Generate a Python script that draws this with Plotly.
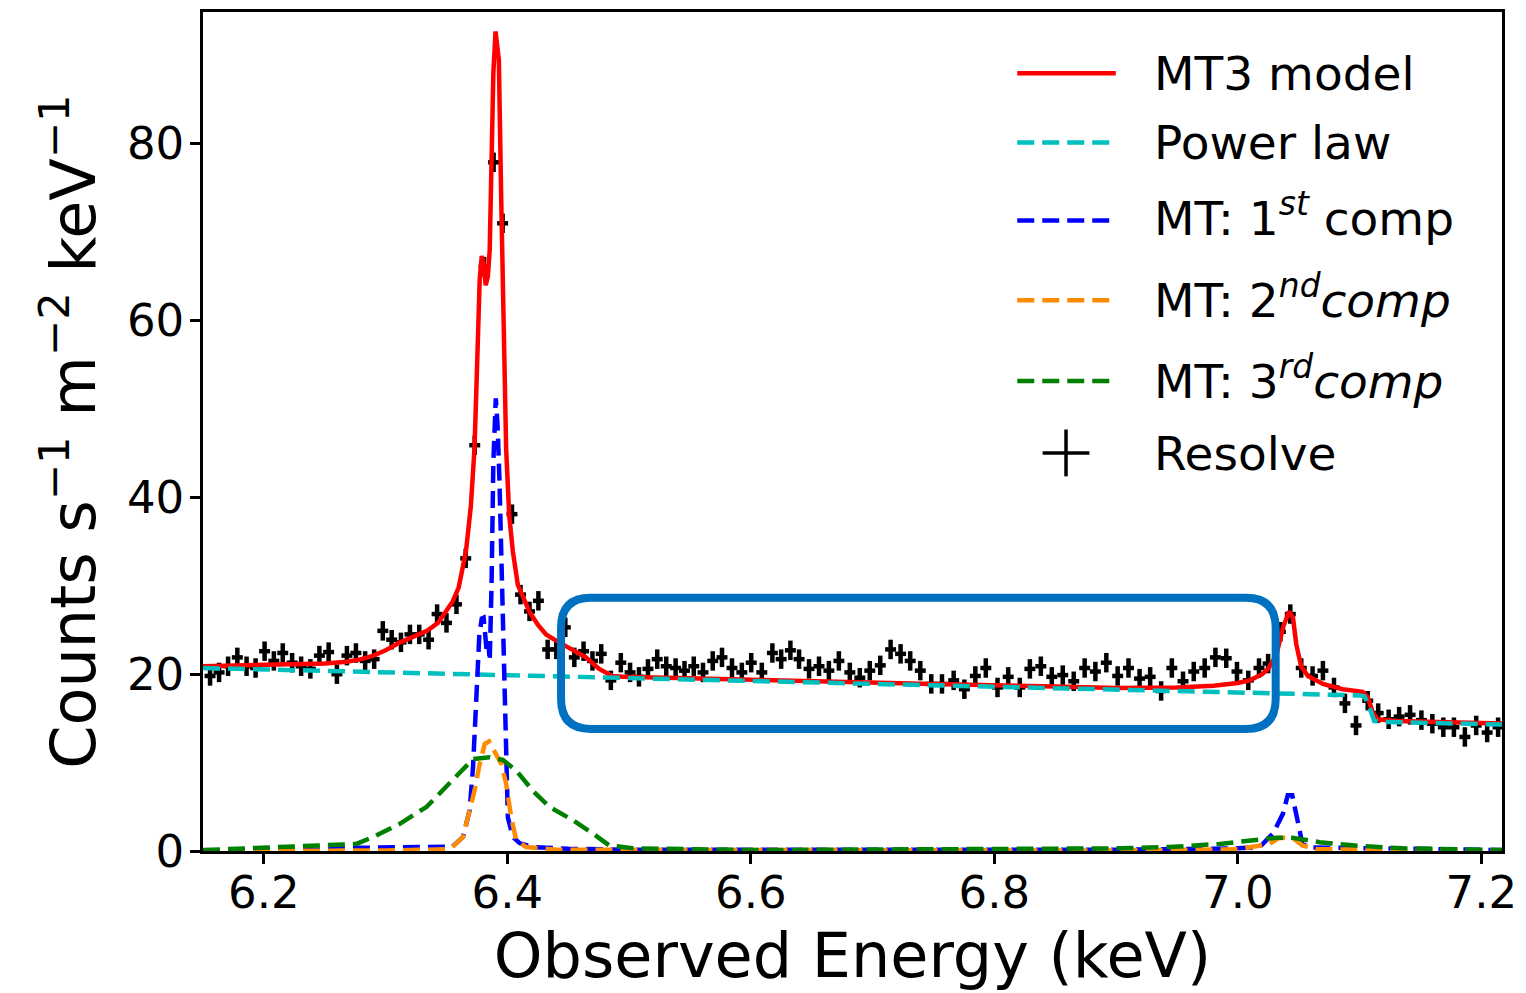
import plotly.graph_objects as go

# ---------------- data ----------------
energy = [6.1558, 6.1632, 6.1706, 6.1782, 6.1858, 6.1932, 6.2006, 6.2082, 6.2155, 6.2232,
          6.2306, 6.2382, 6.2456, 6.2532, 6.2600, 6.2682, 6.2756, 6.2832, 6.2906, 6.2977,
          6.3050, 6.3126, 6.3200, 6.3276, 6.3353, 6.3423, 6.3500, 6.3582, 6.3658, 6.3732,
          6.3809, 6.3887, 6.3961, 6.4038, 6.4108, 6.4182, 6.4255, 6.4331, 6.4402, 6.4476,
          6.4550, 6.4626, 6.4699, 6.4771, 6.4850, 6.4932, 6.5008, 6.5081, 6.5155, 6.5231,
          6.5305, 6.5382, 6.5455, 6.5531, 6.5607, 6.5687, 6.5763, 6.5845, 6.5926, 6.6003,
          6.6090, 6.6177, 6.6249, 6.6325, 6.6396, 6.6478, 6.6560, 6.6641, 6.6723, 6.6813,
          6.6895, 6.6977, 6.7063, 6.7148, 6.7230, 6.7309, 6.7392, 6.7482, 6.7570, 6.7666,
          6.7754, 6.7844, 6.7930, 6.8026, 6.8114, 6.8209, 6.8292, 6.8382, 6.8472, 6.8562,
          6.8652, 6.8742, 6.8830, 6.8920, 6.9013, 6.9102, 6.9193, 6.9280, 6.9370, 6.9458,
          6.9550, 6.9638, 6.9728, 6.9816, 6.9905, 6.9993, 7.0086, 7.0174, 7.0249, 7.0350,
          7.0431, 7.0521, 7.0614, 7.0699, 7.0790, 7.0880, 7.0971, 7.1067, 7.1153, 7.1239,
          7.1325, 7.1415, 7.1508, 7.1598, 7.1688, 7.1775, 7.1865, 7.1958, 7.2048, 7.2138]
counts = [19.8, 20.2, 20.9, 21.9, 20.9, 20.7, 22.6, 21.5, 22.4, 21.3,
          20.9, 20.6, 22.1, 22.5, 20.0, 22.1, 22.4, 21.5, 21.7, 24.9,
          23.9, 23.6, 24.5, 24.5, 23.9, 26.8, 25.8, 27.9, 33.1, 45.9,
          66.1, 77.9, 71.0, 38.1, 29.0, 27.1, 28.3, 22.8, 22.8, 25.3,
          21.9, 22.6, 21.5, 22.3, 19.3, 21.3, 20.2, 19.7, 20.6, 21.7,
          20.9, 20.7, 20.4, 20.9, 20.2, 21.5, 21.9, 20.7, 20.2, 21.3,
          20.2, 22.4, 21.7, 22.7, 21.7, 20.6, 20.9, 20.4, 21.5, 20.2,
          19.6, 20.4, 21.0, 22.8, 22.3, 21.5, 20.4, 18.9, 18.9, 19.3,
          18.3, 19.8, 20.7, 18.5, 19.7, 18.5, 20.6, 20.9, 19.7, 19.9,
          19.2, 20.7, 20.3, 21.3, 19.8, 20.7, 19.5, 19.7, 18.1, 20.7,
          19.2, 20.3, 20.7, 21.9, 21.8, 20.3, 19.3, 20.7, 21.2, 24.8,
          26.8, 20.7, 19.8, 20.4, 18.5, 16.7, 14.2, 17.0, 15.6, 14.9,
          15.2, 15.4, 14.8, 14.4, 14.0, 14.0, 12.9, 14.2, 13.4, 14.0]

model_e = [6.150, 6.200, 6.250, 6.268, 6.280, 6.290, 6.300, 6.312, 6.323, 6.334,
           6.343, 6.350, 6.355, 6.360, 6.366, 6.370, 6.373, 6.3745, 6.376, 6.3773,
           6.3790, 6.3805, 6.3822, 6.3840, 6.3855, 6.3868, 6.3885, 6.3903, 6.3915, 6.3930,
           6.3950, 6.3969, 6.3990, 6.4015, 6.4045, 6.4086, 6.4180, 6.4250, 6.4318, 6.4400,
           6.4482, 6.4645, 6.4754, 6.4863, 6.4950, 6.5500, 6.6500, 6.7500, 6.8500, 6.9000,
           6.9500, 6.9800, 7.0000, 7.0098, 7.0200, 7.0249, 7.0317, 7.0372, 7.0420, 7.0453,
           7.0480, 7.0520, 7.0576, 7.0699, 7.0862, 7.1026, 7.1067, 7.1108, 7.1148, 7.1300,
           7.2200]
model_y = [20.9, 21.0, 21.2, 21.4, 21.7, 22.1, 22.7, 23.6, 24.2, 24.9,
           25.8, 27.1, 28.2, 29.8, 33.9, 39.0, 45.5, 52.0, 62.1, 64.7,
           67.3, 66.5, 64.0, 65.0, 68.0, 77.9, 88.0, 92.7, 91.5, 89.5,
           73.4, 62.1, 45.5, 38.0, 33.9, 30.1, 27.1, 25.6, 24.5, 23.8,
           23.2, 21.9, 20.6, 19.8, 19.7, 19.55, 19.2, 18.9, 18.6, 18.45,
           18.5, 18.7, 19.0, 19.3, 20.0, 20.6, 22.2, 25.3, 27.1, 26.4,
           23.4, 20.9, 19.8, 18.9, 18.3, 18.0, 17.4, 15.7, 14.9, 14.7,
           14.4]

pl_e = [6.150, 6.400, 6.600, 6.800, 7.000, 7.100, 7.104, 7.108, 7.112, 7.120, 7.220]
pl_y = [20.7, 19.9, 19.25, 18.65, 18.0, 17.6, 17.5, 16.3, 14.7, 14.6, 14.3]

c1_e = [6.150, 6.250, 6.270, 6.355, 6.3636, 6.3690, 6.3718, 6.3745, 6.3770, 6.3790,
        6.3805, 6.3818, 6.3830, 6.3845, 6.3855, 6.3870, 6.3885, 6.3905, 6.3920, 6.3935,
        6.3950, 6.3977, 6.4004, 6.4045, 6.4100, 6.4210, 6.4500, 6.5000, 6.9000, 7.0000,
        7.0180, 7.0290, 7.0370, 7.0410, 7.0447, 7.0490, 7.0530, 7.0600, 7.2200]
c1_y = [0.05, 0.15, 0.35, 0.5, 1.6, 4.6, 9.5, 18.9, 24.5, 26.3,
        26.4, 24.5, 22.5, 23.5, 21.5, 30.0, 44.0, 51.2, 48.0, 42.0,
        33.9, 17.0, 3.8, 1.6, 0.9, 0.45, 0.25, 0.15, 0.15, 0.3,
        0.45, 2.0, 4.2, 6.3, 6.3, 3.5, 0.8, 0.4, 0.1]

c2_e = [6.150, 6.300, 6.350, 6.355, 6.3636, 6.3690, 6.3730, 6.3773, 6.3814, 6.3850,
        6.3887, 6.3950, 6.3990, 6.4032, 6.4073, 6.4155, 6.4400, 6.9000, 7.0000, 7.0260,
        7.0340, 7.0460, 7.0530, 7.0650, 7.2200]
c2_y = [0.02, 0.05, 0.2, 0.45, 1.6, 4.6, 6.8, 9.85, 12.1, 12.4,
        11.5, 9.85, 7.6, 3.8, 1.2, 0.45, 0.15, 0.05, 0.2, 0.8,
        1.5, 1.4, 0.64, 0.2, 0.02]

c3_e = [6.150, 6.257, 6.276, 6.290, 6.312, 6.3337, 6.3554, 6.3718, 6.3855, 6.3963,
        6.4073, 6.4210, 6.4345, 6.4536, 6.4700, 6.4836, 6.5027, 6.6000, 6.9035, 6.9440,
        6.9850, 7.0126, 7.0317, 7.0447, 7.0671, 7.0944, 7.1350, 7.2200]
c3_y = [0.1, 0.64, 0.8, 1.6, 3.1, 5.0, 8.0, 10.4, 10.6, 10.3,
        9.1, 6.8, 5.0, 3.5, 2.0, 0.64, 0.3, 0.1, 0.3, 0.45,
        0.8, 1.2, 1.5, 1.5, 1.0, 0.64, 0.3, 0.1]

x_ticks = [6.2, 6.4, 6.6, 6.8, 7.0, 7.2]
x_ticklabels = ["6.2", "6.4", "6.6", "6.8", "7.0", "7.2"]
y_ticks = [0, 20, 40, 60, 80]
y_ticklabels = ["0", "20", "40", "60", "80"]

legend_labels = ["MT3 model", "Power law", "MT: 1<sup><i>st</i></sup> comp",
                 "MT: 2<sup><i>nd</i></sup><i>comp</i>", "MT: 3<sup><i>rd</i></sup><i>comp</i>",
                 "Resolve"]
legend_colors = ["#ff0000", "#00bfbf", "#0000ff", "#ff8c00", "#008000"]

# ---------------- figure ----------------
W, H = 1526, 993
L, R, T, B = 203, 18, 9, 142
FONT = "DejaVu Sans"
DASH = "17px,8px"

fig = go.Figure()

fig.add_trace(go.Scatter(
    x=energy, y=counts, mode="markers", name="Resolve",
    marker=dict(size=1, color="black"),
    error_x=dict(type="constant", value=0.0045, color="black", thickness=4.5, width=0),
    error_y=dict(type="constant", value=1.1, color="black", thickness=4.5, width=0),
    showlegend=False))

fig.add_trace(go.Scatter(x=model_e, y=model_y, mode="lines", name="MT3 model",
                         line=dict(color=legend_colors[0], width=4.5), showlegend=False))
fig.add_trace(go.Scatter(x=pl_e, y=pl_y, mode="lines", name="Power law",
                         line=dict(color=legend_colors[1], width=4.5, dash=DASH), showlegend=False))
fig.add_trace(go.Scatter(x=c1_e, y=c1_y, mode="lines", name="MT: 1st comp",
                         line=dict(color=legend_colors[2], width=4.5, dash=DASH), showlegend=False))
fig.add_trace(go.Scatter(x=c2_e, y=c2_y, mode="lines", name="MT: 2nd comp",
                         line=dict(color=legend_colors[3], width=4.5, dash=DASH), showlegend=False))
fig.add_trace(go.Scatter(x=c3_e, y=c3_y, mode="lines", name="MT: 3rd comp",
                         line=dict(color=legend_colors[4], width=4.5, dash=DASH), showlegend=False))

# rounded highlight box (data coordinates)
bx0, bx1, by0, by1 = 6.4441, 7.0311, 13.80, 28.64
rx, ry = 0.0245, 3.38
path = (f"M {bx0+rx},{by0} L {bx1-rx},{by0} Q {bx1},{by0} {bx1},{by0+ry} "
        f"L {bx1},{by1-ry} Q {bx1},{by1} {bx1-rx},{by1} "
        f"L {bx0+rx},{by1} Q {bx0},{by1} {bx0},{by1-ry} "
        f"L {bx0},{by0+ry} Q {bx0},{by0} {bx0+rx},{by0} Z")
shapes = [dict(type="path", xref="x", yref="y", path=path,
               line=dict(color="#0070c0", width=8), layer="above")]

# manual legend in paper coordinates
pw, ph = W - L - R, H - T - B
def px(xp):
    return (xp - L) / pw
def py(yp):
    return (H - B - yp) / ph

line_rows = [70.5, 140, 218.3, 298.3, 379.3]
text_rows = [70.5, 140, 213, 295, 376, 452]
for i, yr in enumerate(line_rows):
    d = "solid" if i == 0 else DASH
    shapes.append(dict(type="line", xref="paper", yref="paper",
                       x0=px(1021), x1=px(1120), y0=py(yr), y1=py(yr),
                       line=dict(color=legend_colors[i], width=4.5, dash=d)))
# plus symbol for Resolve
shapes.append(dict(type="line", xref="paper", yref="paper",
                   x0=px(1046.5), x1=px(1093.5), y0=py(451.7), y1=py(451.7),
                   line=dict(color="black", width=3.5)))
shapes.append(dict(type="line", xref="paper", yref="paper",
                   x0=px(1070), x1=px(1070), y0=py(428), y1=py(475),
                   line=dict(color="black", width=3.5)))

annotations = []
for lab, yr in zip(legend_labels, text_rows):
    annotations.append(dict(text=lab, xref="paper", yref="paper", x=px(1156), y=py(yr),
                            xanchor="left", yanchor="middle", showarrow=False,
                            font=dict(family=FONT, size=47, color="black")))

fig.update_layout(
    width=W, height=H,
    margin=dict(l=L, r=R, t=T, b=B, pad=0),
    paper_bgcolor="white", plot_bgcolor="white",
    font=dict(family=FONT, size=45, color="black"),
    shapes=shapes, annotations=annotations, showlegend=False,
)
fig.update_xaxes(
    range=[6.15, 7.217], tickvals=x_ticks, ticktext=x_ticklabels,
    showgrid=False, zeroline=False,
    showline=True, linecolor="black", linewidth=2.5, mirror=True,
    ticks="outside", ticklen=10, tickwidth=2.5, tickcolor="black",
    ticklabelstandoff=-10,
    tickfont=dict(family=FONT, size=45, color="black"),
    title=dict(text="Observed Energy (keV)", font=dict(family=FONT, size=62, color="black"),
               standoff=16),
)
fig.update_yaxes(
    range=[0, 94.9], tickvals=y_ticks, ticktext=y_ticklabels,
    showgrid=False, zeroline=False,
    showline=True, linecolor="black", linewidth=2.5, mirror=True,
    ticks="outside", ticklen=10, tickwidth=2.5, tickcolor="black",
    ticklabelstandoff=-3,
    tickfont=dict(family=FONT, size=45, color="black"),
    title=dict(text="Counts s<sup>−1</sup> m<sup>−2</sup> keV<sup>−1</sup>",
               font=dict(family=FONT, size=62, color="black"), standoff=12),
)

fig.write_html("out.html")
